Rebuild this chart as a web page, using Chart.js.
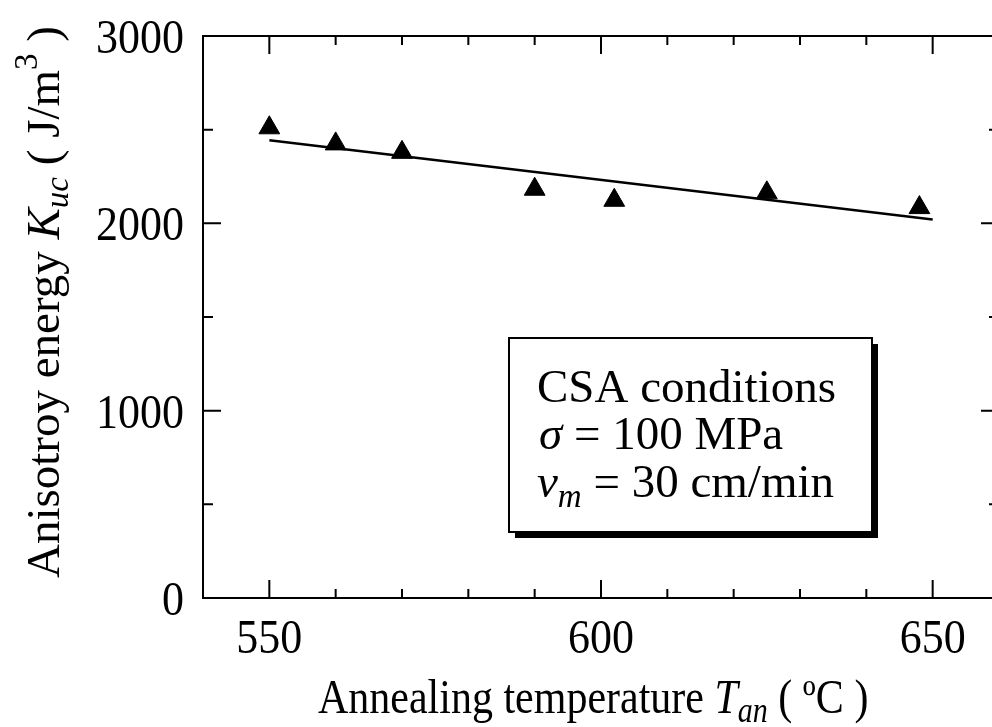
<!DOCTYPE html>
<html>
<head>
<meta charset="utf-8">
<title>Anisotropy energy vs annealing temperature</title>
<script src="https://cdn.jsdelivr.net/npm/chart.js@4.4.0/dist/chart.umd.min.js"></script>
<style>
    html, body { margin: 0; padding: 0; background: #fff; overflow: hidden; }
    #wrap { position: absolute; left: 0; top: 0; width: 1012px; height: 727px; }
</style>
</head>
<body>
<div id="wrap"><canvas id="kucChart" width="1012" height="727"></canvas></div>
<script>
// Measured points: annealing temperature (ºC) and Kuc (J/m3)
const annealTemps = [550, 560, 570, 590, 602, 625, 648];
const kucValues = [2510, 2424, 2379, 2182, 2123, 2163, 2084];

// Linear fit end points
const fitTemps = [550, 650];
const fitValues = [2444, 2021];

// Axis ranges and tick labels
const xRange = [540, 660];
const yRange = [0, 3000];
const xTickLabels = [550, 600, 650];
const yTickLabels = [0, 1000, 2000, 3000];

const serif = '"Liberation Serif", "Times New Roman", serif';

// draw a list of text runs one after another, returns end x
function drawRuns(ctx, runs, x, y) {
    let cx = x;
    runs.forEach(r => {
        ctx.font = (r.italic ? 'italic ' : '') + r.size + 'px ' + serif;
        ctx.fillText(r.text, cx + (r.dx || 0), y + (r.dy || 0));
        cx += ctx.measureText(r.text).width + (r.dx || 0);
    });
    return cx;
}

const paperFrame = {
    id: 'paperFrame',
    afterDraw(chart) {
        const ctx = chart.ctx;
        const area = chart.chartArea;
        const xs = chart.scales.x;
        const ys = chart.scales.y;

        ctx.save();
        ctx.strokeStyle = '#000';
        ctx.fillStyle = '#000';
        ctx.lineWidth = 2;
        ctx.strokeRect(area.left, area.top, area.right - area.left, area.bottom - area.top);

        // inward ticks on all four sides
        ctx.beginPath();
        for (let v = xRange[0] + 10; v < xRange[1]; v += 10) {
            const px = xs.getPixelForValue(v);
            const len = v % 50 === 0 ? 18 : 9;
            ctx.moveTo(px, area.bottom); ctx.lineTo(px, area.bottom - len);
            ctx.moveTo(px, area.top); ctx.lineTo(px, area.top + len);
        }
        for (let v = yRange[0] + 500; v < yRange[1]; v += 500) {
            const py = ys.getPixelForValue(v);
            const len = v % 1000 === 0 ? 18 : 10;
            ctx.moveTo(area.left, py); ctx.lineTo(area.left + len, py);
            ctx.moveTo(area.right, py); ctx.lineTo(area.right - len, py);
        }
        ctx.stroke();

        // tick labels
        ctx.font = '44px ' + serif;
        ctx.textAlign = 'center';
        xTickLabels.forEach(v => {
            ctx.save();
            ctx.translate(xs.getPixelForValue(v), 653);
            ctx.scale(1, 1.12);
            ctx.fillText(String(v), 0, 0);
            ctx.restore();
        });
        ctx.textAlign = 'right';
        yTickLabels.forEach(v => {
            ctx.save();
            ctx.translate(184, ys.getPixelForValue(v) + 17);
            ctx.scale(1, 1.12);
            ctx.fillText(String(v), 0, 0);
            ctx.restore();
        });

        // axis titles
        ctx.textAlign = 'left';
        ctx.save();
        ctx.translate(318, 713);
        ctx.scale(1, 1.16);
        drawRuns(ctx, [
            { text: 'Annealing temperature ', size: 42 },
            { text: 'T', size: 42, italic: true },
            { text: 'an', size: 30, italic: true, dy: 8 },
            { text: ' ( ºC )', size: 42 }
        ], 0, 0);
        ctx.restore();

        ctx.save();
        ctx.translate(59, 578);
        ctx.rotate(-Math.PI / 2);
        drawRuns(ctx, [
            { text: 'Anisotroy energy ', size: 47 },
            { text: 'K', size: 47, italic: true },
            { text: 'uc', size: 33, italic: true, dy: 9 },
            { text: ' ( J/m', size: 47 },
            { text: '3', size: 33, dy: -22 },
            { text: ' )', size: 47 }
        ], 0, 0);
        ctx.restore();

        // conditions box with drop shadow
        const bx = 509, by = 338, bw = 363, bh = 194;
        ctx.fillRect(bx + 6, by + 6, bw, bh);
        ctx.fillStyle = '#fff';
        ctx.fillRect(bx, by, bw, bh);
        ctx.strokeRect(bx, by, bw, bh);
        ctx.fillStyle = '#000';
        drawRuns(ctx, [{ text: 'CSA conditions', size: 47 }], 537, 402);
        drawRuns(ctx, [
            { text: 'σ', size: 47, italic: true },
            { text: ' = 100 MPa', size: 47 }
        ], 539, 449);
        drawRuns(ctx, [
            { text: 'v', size: 47, italic: true },
            { text: 'm', size: 33, italic: true, dy: 10 },
            { text: ' = 30 cm/min', size: 47 }
        ], 537, 497);
        ctx.restore();
    }
};

const points = annealTemps.map((t, i) => ({ x: t, y: kucValues[i] }));
const fitLine = fitTemps.map((t, i) => ({ x: t, y: fitValues[i] }));

new Chart(document.getElementById('kucChart'), {
    type: 'scatter',
    data: {
        datasets: [{
            label: 'Kuc',
            data: points,
            showLine: false,
            pointStyle: 'triangle',
            pointRadius: 12,
            backgroundColor: '#000',
            borderColor: '#000',
            borderWidth: 1
        }, {
            label: 'fit',
            data: fitLine,
            showLine: true,
            pointRadius: 0,
            borderColor: '#000',
            borderWidth: 2.5,
            fill: false
        }]
    },
    options: {
        responsive: false,
        animation: false,
        events: [],
        layout: { padding: { left: 203, top: 36, right: 13, bottom: 129 } },
        plugins: {
            legend: { display: false },
            tooltip: { enabled: false }
        },
        scales: {
            x: { type: 'linear', min: xRange[0], max: xRange[1], display: false },
            y: { type: 'linear', min: yRange[0], max: yRange[1], display: false }
        }
    },
    plugins: [paperFrame]
});
</script>
</body>
</html>
